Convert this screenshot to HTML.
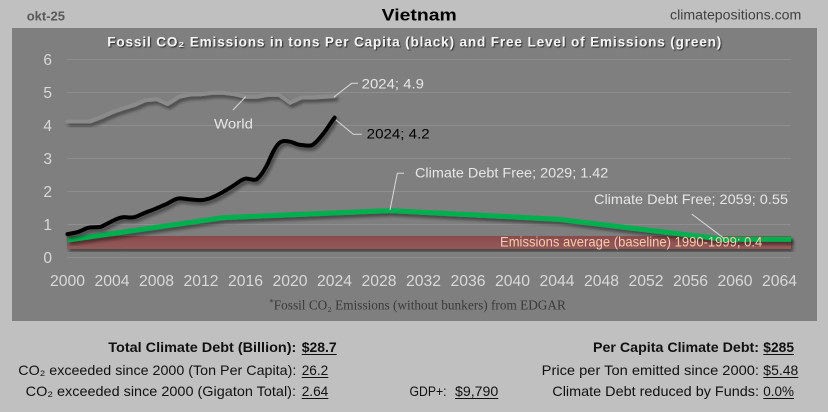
<!DOCTYPE html>
<html><head><meta charset="utf-8"><style>
html,body{margin:0;padding:0;background:#c0c0c0;}
svg{display:block;}
text{font-family:"Liberation Sans",sans-serif;}
text.serif{font-family:"Liberation Serif",serif;}
</style></head><body>
<svg width="828" height="412" viewBox="0 0 828 412" xmlns="http://www.w3.org/2000/svg">
<defs>
<filter id="sh" x="-5%" y="-20%" width="110%" height="140%">
<feDropShadow dx="2" dy="3" stdDeviation="1.6" flood-color="#000" flood-opacity="0.45"/>
</filter>
<filter id="tsh" x="-5%" y="-30%" width="110%" height="160%">
<feDropShadow dx="1" dy="1" stdDeviation="0.6" flood-color="#000" flood-opacity="0.7"/>
</filter>
<linearGradient id="band" x1="0" y1="0" x2="0" y2="1">
<stop offset="0" stop-color="#8a4b4b"/>
<stop offset="1" stop-color="#935a5a"/>
</linearGradient>
</defs>
<rect width="828" height="412" fill="#c0c0c0"/>
<text x="26.7" y="20.5" font-size="13" font-weight="bold" fill="#595959" textLength="38.3" lengthAdjust="spacingAndGlyphs">okt-25</text>
<text x="381.7" y="20.7" font-size="17" font-weight="bold" fill="#000" textLength="75" lengthAdjust="spacingAndGlyphs">Vietnam</text>
<text x="670" y="19.5" font-size="13.5" fill="#404040" textLength="131.3" lengthAdjust="spacingAndGlyphs">climatepositions.com</text>

<rect x="12" y="28" width="805" height="293" fill="#7f7f7f"/>
<text x="107.3" y="46.7" font-size="13.5" font-weight="bold" fill="#f2f2f2" filter="url(#tsh)" textLength="614" lengthAdjust="spacing">Fossil CO₂ Emissions in tons Per Capita (black) and Free Level of Emissions (green)</text>

<g stroke="#8e8e8e" stroke-width="1">
<line x1="67" y1="59.5" x2="791" y2="59.5"/>
<line x1="67" y1="92.5" x2="791" y2="92.5"/>
<line x1="67" y1="125.5" x2="791" y2="125.5"/>
<line x1="67" y1="158.5" x2="791" y2="158.5"/>
<line x1="67" y1="191.5" x2="791" y2="191.5"/>
<line x1="67" y1="224.5" x2="791" y2="224.5"/>
<line x1="67" y1="257.5" x2="791" y2="257.5"/>
</g>
<g font-size="15.5" fill="#d9d9d9" text-anchor="end">
<text x="52" y="65">6</text>
<text x="52" y="98">5</text>
<text x="52" y="131">4</text>
<text x="52" y="164">3</text>
<text x="52" y="197">2</text>
<text x="52" y="230">1</text>
<text x="52" y="263">0</text>
</g>
<g font-size="15.5" fill="#d9d9d9">
<text x="50" y="286" textLength="35" lengthAdjust="spacingAndGlyphs">2000</text>
<text x="94.5" y="286" textLength="35" lengthAdjust="spacingAndGlyphs">2004</text>
<text x="139" y="286" textLength="35" lengthAdjust="spacingAndGlyphs">2008</text>
<text x="183.5" y="286" textLength="35" lengthAdjust="spacingAndGlyphs">2012</text>
<text x="228" y="286" textLength="35" lengthAdjust="spacingAndGlyphs">2016</text>
<text x="272.5" y="286" textLength="35" lengthAdjust="spacingAndGlyphs">2020</text>
<text x="317" y="286" textLength="35" lengthAdjust="spacingAndGlyphs">2024</text>
<text x="361.5" y="286" textLength="35" lengthAdjust="spacingAndGlyphs">2028</text>
<text x="406" y="286" textLength="35" lengthAdjust="spacingAndGlyphs">2032</text>
<text x="450.5" y="286" textLength="35" lengthAdjust="spacingAndGlyphs">2036</text>
<text x="495" y="286" textLength="35" lengthAdjust="spacingAndGlyphs">2040</text>
<text x="539.5" y="286" textLength="35" lengthAdjust="spacingAndGlyphs">2044</text>
<text x="584" y="286" textLength="35" lengthAdjust="spacingAndGlyphs">2048</text>
<text x="628.5" y="286" textLength="35" lengthAdjust="spacingAndGlyphs">2052</text>
<text x="673" y="286" textLength="35" lengthAdjust="spacingAndGlyphs">2056</text>
<text x="717.5" y="286" textLength="35" lengthAdjust="spacingAndGlyphs">2060</text>
<text x="762" y="286" textLength="35" lengthAdjust="spacingAndGlyphs">2064</text>
</g>

<rect x="67" y="236" width="724" height="13" fill="url(#band)" filter="url(#sh)"/>

<polyline fill="none" stroke="#8b8b8b" stroke-width="4" stroke-linejoin="round" stroke-linecap="round" filter="url(#sh)"
points="67.5,121.5 78.6,121.5 89.8,121.5 100.9,117.3 112,112.3 123.2,108.3 134.3,105 145.4,100.1 156.5,99.1 167.7,104 178.8,96.8 189.9,94.5 201.1,94.2 212.2,92.8 223.3,92.8 234.5,94.2 245.6,96.8 256.7,96.8 267.8,94.8 279,94.8 290.1,102.7 301.2,97.5 312.4,97.5 323.5,96.8 334.6,96.1"/>

<polyline fill="none" stroke="#00b050" stroke-width="5" stroke-linejoin="round" filter="url(#sh)"
points="67.5,240 223.3,217.6 390.3,210.6 557.2,219.2 724.2,239.3 791,239.3"/>

<path fill="none" stroke="#000" stroke-width="4" stroke-linejoin="round" stroke-linecap="round" filter="url(#sh)"
d="M67.5,234.1 C71,233.5 75,233 78.6,231.8 C82,230.5 86,228 89.8,227.5 C94,227 97,227.5 100.9,226.8 C104.5,225.5 108,223 112,221.2 C116,219.2 119,217.4 123.2,217.2 C127,217 130.5,218 134.3,217.2 C138,216.2 141.5,214.2 145.4,212.6 C149,211 152.8,210 156.5,208.3 C160.3,206.5 164,205.2 167.7,203.4 C171.5,201.5 175,198.8 178.8,198.4 C182.5,198 186.2,199.2 189.9,199.4 C193.6,199.6 197.4,200.4 201.1,200.1 C204.8,199.8 208.5,199 212.2,197.4 C216,195.8 219.6,194 223.3,191.8 C227,189.6 230.8,187.4 234.5,184.9 C238.2,182.4 241.9,179 245.6,178.6 C249.3,178.2 253.5,181 256.7,179.3 C261,176 264,171 267.8,163.4 C271.5,155 275,147 279,143.3 C282.8,140 286.4,141 290.1,141.7 C293.8,142.4 297.5,145 301.2,145 C305,145 309,146.5 312.4,145 C316.5,142.5 319.8,138 323.5,133.4 C327.2,128.5 331,122.5 334.6,117.6"/>

<g stroke="#d9d9d9" stroke-width="1" fill="none">
<polyline points="334,97 351.7,83.3 358,83.3"/>
<line x1="233" y1="110" x2="245.7" y2="96.7"/>
<polyline points="336,120 353.3,134.3 361.7,134.3"/>
<polyline points="390,210 397.3,173.3 404,173.3"/>
<line x1="691.7" y1="214" x2="724" y2="238.3"/>
</g>
<g font-size="14" fill="#e6e6e6">
<text x="361.7" y="88.3" textLength="62.3" lengthAdjust="spacingAndGlyphs">2024; 4.9</text>
<text x="214" y="128.3" textLength="39" lengthAdjust="spacingAndGlyphs">World</text>
<text x="366.7" y="138.3" fill="#000" textLength="63" lengthAdjust="spacingAndGlyphs">2024; 4.2</text>
<text x="415" y="177.7" textLength="193.3" lengthAdjust="spacingAndGlyphs">Climate Debt Free; 2029; 1.42</text>
<text x="594" y="204" textLength="194" lengthAdjust="spacingAndGlyphs">Climate Debt Free; 2059; 0.55</text>
<text x="500" y="246.7" fill="#f8cbad" textLength="262.3" lengthAdjust="spacingAndGlyphs">Emissions average (baseline) 1990-1999; 0.4</text>
</g>
<text class="serif" x="269.3" y="309.3" font-size="13.5" fill="#3a3a3a"><tspan font-size="9" dy="-4">*</tspan><tspan dy="4" textLength="292" lengthAdjust="spacingAndGlyphs">Fossil CO₂ Emissions (without bunkers) from EDGAR</tspan></text>

<g font-size="14" fill="#111">
<text x="108.3" y="352" font-weight="bold" textLength="188" lengthAdjust="spacingAndGlyphs">Total Climate Debt (Billion):</text>
<text x="301.7" y="352" font-weight="bold" textLength="35" lengthAdjust="spacingAndGlyphs">$28.7</text>
<text x="18.3" y="375" textLength="278" lengthAdjust="spacingAndGlyphs">CO₂ exceeded since 2000 (Ton Per Capita):</text>
<text x="301.7" y="375" textLength="26.6" lengthAdjust="spacingAndGlyphs">26.2</text>
<text x="25.7" y="396" textLength="270.3" lengthAdjust="spacingAndGlyphs">CO₂ exceeded since 2000 (Gigaton Total):</text>
<text x="301.7" y="396" textLength="26.6" lengthAdjust="spacingAndGlyphs">2.64</text>
<text x="409.5" y="396" font-size="13.5" textLength="37" lengthAdjust="spacingAndGlyphs">GDP+:</text>
<text x="455" y="396" textLength="43.3" lengthAdjust="spacingAndGlyphs">$9,790</text>
<text x="593" y="352" font-weight="bold" textLength="166" lengthAdjust="spacingAndGlyphs">Per Capita Climate Debt:</text>
<text x="763.3" y="352" font-weight="bold" textLength="30.7" lengthAdjust="spacingAndGlyphs">$285</text>
<text x="541.7" y="375" textLength="217.3" lengthAdjust="spacingAndGlyphs">Price per Ton emitted since 2000:</text>
<text x="763.3" y="375" textLength="35" lengthAdjust="spacingAndGlyphs">$5.48</text>
<text x="552.3" y="396" textLength="206.7" lengthAdjust="spacingAndGlyphs">Climate Debt reduced by Funds:</text>
<text x="763.3" y="396" textLength="30.7" lengthAdjust="spacingAndGlyphs">0.0%</text>
</g>
<g stroke="#111" stroke-width="1">
<line x1="301.7" y1="354.5" x2="336.7" y2="354.5"/>
<line x1="301.7" y1="377.5" x2="328.3" y2="377.5"/>
<line x1="301.7" y1="398.5" x2="328.3" y2="398.5"/>
<line x1="455" y1="398.5" x2="498.3" y2="398.5"/>
<line x1="763.3" y1="354.5" x2="794" y2="354.5"/>
<line x1="763.3" y1="377.5" x2="798.3" y2="377.5"/>
<line x1="763.3" y1="398.5" x2="794" y2="398.5"/>
</g>
</svg>
</body></html>
